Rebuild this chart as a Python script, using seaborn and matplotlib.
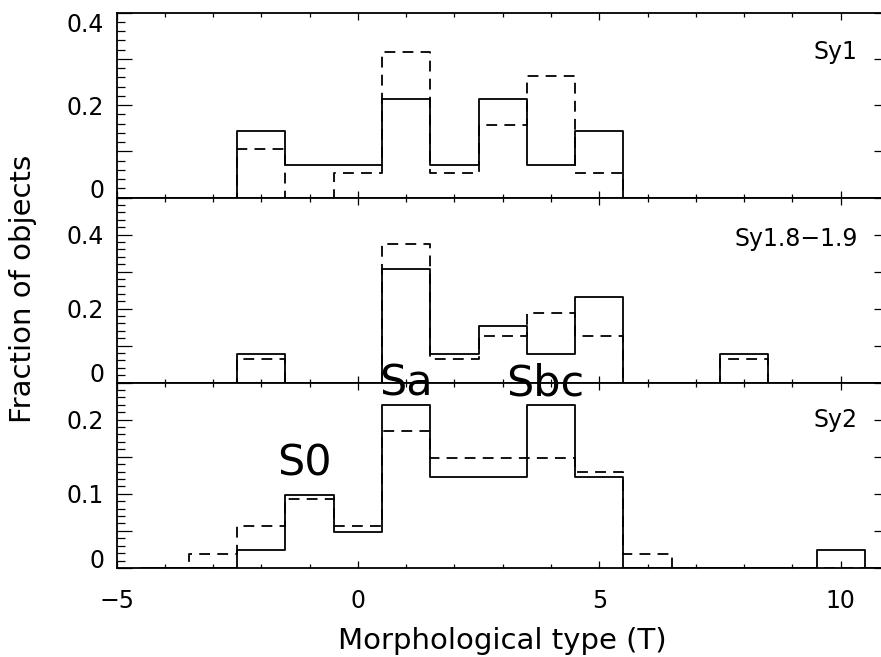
import numpy as np
import pandas as pd
import matplotlib
matplotlib.use("Agg")
import matplotlib.pyplot as plt
from matplotlib.ticker import MultipleLocator
import seaborn as sns

# Morphological type bins (T), with empty bins at both ends
T = [-4, -3, -2, -1, 0, 1, 2, 3, 4, 5, 6, 7, 8, 9, 10, 11]

sy1_solid = [0, 0, 0.143, 0.071, 0.071, 0.214, 0.071, 0.214, 0.071, 0.143, 0, 0, 0, 0, 0, 0]
sy1_dashed = [0, 0, 0.105, 0, 0.053, 0.316, 0.053, 0.158, 0.263, 0.053, 0, 0, 0, 0, 0, 0]

sy18_solid = [0, 0, 0.077, 0, 0, 0.308, 0.077, 0.154, 0.077, 0.231, 0, 0, 0.077, 0, 0, 0]
sy18_dashed = [0, 0, 0.0625, 0, 0, 0.375, 0.0625, 0.125, 0.1875, 0.125, 0, 0, 0.0625, 0, 0, 0]

sy2_solid = [0, 0, 0.024, 0.098, 0.049, 0.220, 0.122, 0.122, 0.220, 0.122, 0, 0, 0, 0, 0.024, 0]
sy2_dashed = [0, 0.0185, 0.056, 0.093, 0.056, 0.185, 0.148, 0.148, 0.148, 0.130, 0.0185, 0, 0, 0, 0, 0]

panel_names = ["Sy1", "Sy1.8\u22121.9", "Sy2"]
xtick_vals = [-5, 0, 5, 10]
xtick_labels = ["\u22125", "0", "5", "10"]

sns.set_style("ticks")
plt.rcParams["font.family"] = ["DejaVu Sans"]
for key in ["text.color", "axes.labelcolor", "xtick.color", "ytick.color", "axes.edgecolor"]:
    plt.rcParams[key] = "black"
plt.rcParams["xtick.minor.visible"] = True
plt.rcParams["ytick.minor.visible"] = True

W, H = 881, 657
fig = plt.figure(figsize=(W / 100, H / 100), dpi=100)

x_left, x_right = 116.5, 889.0
bounds = [(12.7, 197.5), (197.5, 382.5), (382.5, 568.0)]
axes = []
for top, bot in bounds:
    ax = fig.add_axes([x_left / W, 1 - bot / H, (x_right - x_left) / W, (bot - top) / H])
    axes.append(ax)

solid_sets = [sy1_solid, sy18_solid, sy2_solid]
dashed_sets = [sy1_dashed, sy18_dashed, sy2_dashed]
ylims = [0.4, 0.5, 0.25]
ymajor = [0.1, 0.1, 0.05]
yminor = [0.02, 0.02, 0.01]
ylabels_sets = [["0", "", "0.2", "", "0.4"],
                ["0", "", "0.2", "", "0.4", ""],
                ["0", "", "0.1", "", "0.2", ""]]
name_y = [0.30, 0.37, 0.19]

lw = 1.3
for i, ax in enumerate(axes):
    df = pd.DataFrame({"T": T, "solid": solid_sets[i], "dashed": dashed_sets[i]})
    sns.histplot(data=df, x="T", weights="dashed", discrete=True, element="step",
                 fill=False, color="black", linewidth=lw, linestyle=(0, (6, 4)), ax=ax)
    sns.histplot(data=df, x="T", weights="solid", discrete=True, element="step",
                 fill=False, color="black", linewidth=lw, ax=ax)
    ax.set_xlim(-5, 11)
    ax.set_ylim(0, ylims[i])
    ax.set_xticks(xtick_vals)
    yt = np.round(np.arange(0, ylims[i] + 1e-9, ymajor[i]), 3)
    ax.set_yticks(yt)
    ax.set_yticklabels(ylabels_sets[i][:len(yt)])
    ax.xaxis.set_minor_locator(MultipleLocator(1))
    ax.yaxis.set_minor_locator(MultipleLocator(yminor[i]))
    ax.tick_params(axis="both", which="both", direction="in", top=True, right=True,
                   colors="black")
    ax.tick_params(axis="x", which="major", length=5, width=0.9, pad=15, labelsize=17)
    ax.tick_params(axis="x", which="minor", length=3, width=0.9)
    ax.tick_params(axis="y", which="major", length=11, width=0.9, pad=9, labelsize=17)
    ax.tick_params(axis="y", which="minor", length=5.5, width=0.9)
    for s in ax.spines.values():
        s.set_linewidth(1.3)
        s.set_color("black")
    ax.set_ylabel("")
    ax.set_xlabel("")
    if i < 2:
        ax.set_xticklabels([])
    else:
        ax.set_xticklabels(xtick_labels)
    for lbl in ax.get_yticklabels():
        txt = lbl.get_text()
        if txt == "0":
            lbl.set_va("baseline")
        elif i == 0 and txt == "0.4":
            lbl.set_va("top")
        else:
            lbl.set_va("center_baseline")
    ax.text(10.35, name_y[i], panel_names[i], ha="right", va="baseline", fontsize=17)

axes[2].set_xlabel("Morphological type (T)", fontsize=21, labelpad=10)
fig.text(0.026, 0.56, "Fraction of objects", rotation=90, ha="center", va="center", fontsize=21)

big = [("S0", -1.10, 0.125), ("Sa", 0.99, 0.232), ("Sbc", 3.87, 0.232)]
for label, bx, by in big:
    axes[2].text(bx, by, label, ha="center", va="baseline", fontsize=31, clip_on=False, zorder=10)

fig.savefig("out.png", dpi=100)
